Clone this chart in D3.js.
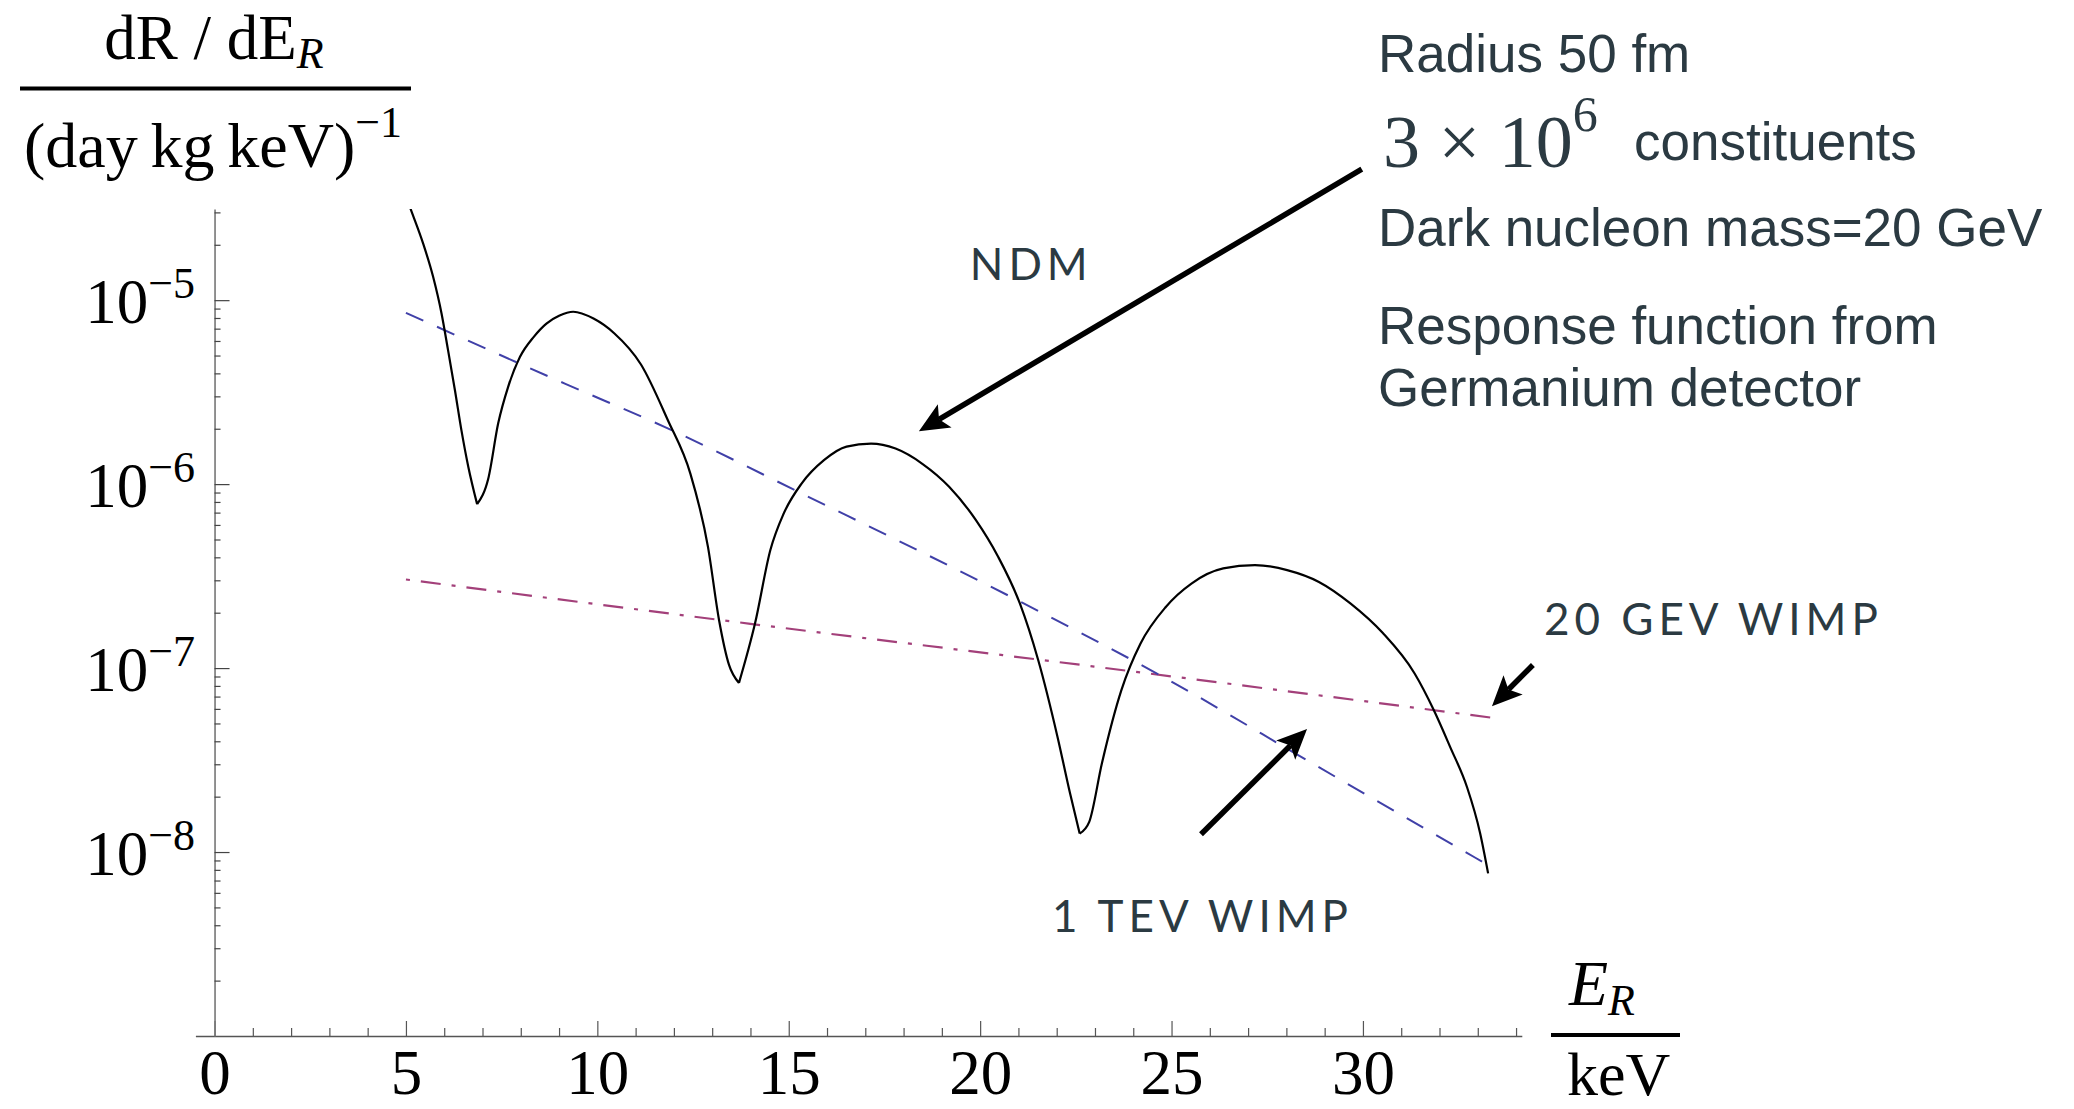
<!DOCTYPE html>
<html>
<head>
<meta charset="utf-8">
<script src="https://cdn.jsdelivr.net/npm/d3@7"></script>
<style>
  html, body { margin: 0; padding: 0; background: #fff; }
  svg { display: block; }
</style>
</head>
<body>
<svg id="chart" width="2074" height="1109"></svg>
<script>
// NDM recoil spectrum (black)
var ndmEnergy = [5.00, 5.15, 5.45, 5.71, 5.93, 6.10, 6.28, 6.45, 6.63, 6.86,
    7.15, 7.41, 7.67, 7.98, 8.34, 8.67, 9.00, 9.37, 9.90, 10.44,
    11.14, 11.84, 12.43, 12.89, 13.18, 13.44, 13.70, 14.12, 14.52, 14.87,
    15.34, 15.92, 16.51, 17.15, 17.79, 18.49, 19.19, 19.89, 20.47, 21.04,
    21.52, 22.02, 22.35, 22.60, 22.85, 23.18, 23.69, 24.19, 24.85, 25.52,
    26.35, 27.18, 28.02, 28.85, 29.68, 30.52, 31.35, 31.85, 32.28, 32.72,
    33.06, 33.27];
var ndmRate = [3.67e-5, 3.02e-5, 2.03e-5, 1.34e-5, 8.47e-6, 5.35e-6, 3.24e-6, 1.96e-6, 1.24e-6, 7.78e-7,
    1.07e-6, 2.14e-6, 3.38e-6, 4.92e-6, 6.32e-6, 7.46e-6, 8.22e-6, 8.65e-6, 7.94e-6, 6.61e-6,
    4.47e-6, 2.23e-6, 1.14e-6, 4.56e-7, 1.82e-7, 1.04e-7, 8.30e-8, 1.75e-7, 4.38e-7, 6.93e-7,
    1.01e-6, 1.35e-6, 1.60e-6, 1.66e-6, 1.56e-6, 1.29e-6, 9.68e-7, 6.37e-7, 4.03e-7, 2.24e-7,
    1.10e-7, 4.24e-8, 2.08e-8, 1.26e-8, 1.46e-8, 3.03e-8, 7.59e-8, 1.36e-7, 2.15e-7, 2.88e-7,
    3.48e-7, 3.63e-7, 3.41e-7, 2.94e-7, 2.24e-7, 1.55e-7, 9.35e-8, 5.92e-8, 3.72e-8, 2.25e-8,
    1.27e-8, 7.66e-9];

// 1 TeV WIMP (blue dashed)
var tevEnergy = [5.00, 9.15, 11.84, 15.34, 21.06, 24.85, 28.68, 33.27];
var tevRate = [8.53e-6, 3.52e-6, 2.01e-6, 8.89e-7, 2.29e-7, 8.79e-8, 3.03e-8, 8.49e-9];

// 20 GeV WIMP (purple dot-dashed)
var gevEnergy = [5.00, 14.00, 23.13, 33.49];
var gevRate = [3.03e-7, 1.74e-7, 1.01e-7, 5.33e-8];

var xMajor = [0, 5, 10, 15, 20, 25, 30];
var xMinor = d3.range(1, 35).filter(function (d) { return d % 5 !== 0; });
var yMajor = [1e-8, 1e-7, 1e-6, 1e-5];
var yExp = ["\u22128", "\u22127", "\u22126", "\u22125"];

// annotations: [label, labelE, labelRate, tailE, tailRate, tipE, tipRate]
var notes = [
    ["NDM", 19.73, 1.29e-5, 29.97, 5.15e-5, 18.40, 1.94e-6],
    ["20 GEV WIMP", 34.73, 1.51e-7, 34.44, 1.04e-7, 33.37, 6.21e-8],
    ["1 TEV WIMP", 21.88, 3.67e-9, 25.77, 1.25e-8, 28.54, 4.66e-8]
];

var svg = d3.select("#chart");
svg.append("rect").attr("width", 2074).attr("height", 1109).attr("fill", "#fff");

var x = d3.scaleLinear().domain([-0.5, 34.15]).range([195.4, 1521.8]);
var y = d3.scaleLog().domain([1e-9, 3.13e-5]).range([1036, 209]);

var serif = "'Liberation Serif', 'Times New Roman', serif";
var sans = "'Liberation Sans', Arial, sans-serif";
var ink = "#2b3a42";

// x axis: major + minor ticks pointing up
svg.append("g")
    .attr("transform", "translate(0," + y(1e-9) + ")")
    .call(d3.axisBottom(x).tickValues(xMinor).tickSizeInner(-8).tickSizeOuter(0).tickFormat(""))
    .call(function (g) {
        g.select(".domain").attr("stroke", "#555").attr("stroke-width", 1.6);
        g.selectAll(".tick line").attr("stroke", "#555").attr("stroke-width", 1.2);
    });
var xg = svg.append("g")
    .attr("transform", "translate(0," + y(1e-9) + ")")
    .call(d3.axisBottom(x).tickValues(xMajor).tickSizeInner(-15).tickSizeOuter(0));
xg.select(".domain").remove();
xg.selectAll(".tick line").attr("stroke", "#555").attr("stroke-width", 1.2);
xg.selectAll(".tick text")
    .attr("y", 58).attr("dy", null)
    .attr("font-family", serif).attr("font-size", 63).attr("fill", "#000");

// y axis
var yMinor = [];
[-9, -8, -7, -6, -5].forEach(function (k) {
    for (var m = 2; m <= 9; m++) {
        var v = m * Math.pow(10, k);
        if (v <= 3.05e-5) yMinor.push(v);
    }
});
var ya = svg.append("g")
    .attr("transform", "translate(" + x(0) + ",0)")
    .call(d3.axisLeft(y).tickValues(yMinor).tickSizeInner(-6).tickSizeOuter(0).tickFormat(""));
ya.select(".domain").attr("stroke", "#777").attr("stroke-width", 1.6);
ya.selectAll(".tick line").attr("stroke", "#444").attr("stroke-width", 1.2);
var yb = svg.append("g")
    .attr("transform", "translate(" + x(0) + ",0)")
    .call(d3.axisLeft(y).tickValues(yMajor).tickSizeInner(-15).tickSizeOuter(0).tickFormat(""));
yb.select(".domain").remove();
yb.selectAll(".tick line").attr("stroke", "#444").attr("stroke-width", 1.2);

var yl = svg.append("g").selectAll("text").data(yMajor).enter().append("text")
    .attr("x", 195).attr("y", function (d) { return y(d) + 23; })
    .attr("text-anchor", "end")
    .attr("font-family", serif).attr("font-size", 63).attr("fill", "#000");
yl.append("tspan").text("10");
yl.append("tspan").attr("font-size", 44).attr("dy", -25)
    .text(function (d, i) { return yExp[i]; });

// curves
svg.append("clipPath").attr("id", "plot")
    .append("rect").attr("x", x(0)).attr("y", 209).attr("width", 1320).attr("height", 830);

var line = d3.line()
    .x(function (d) { return x(d[0]); })
    .y(function (d) { return y(d[1]); })
    .curve(d3.curveMonotoneX);

var plot = svg.append("g").attr("clip-path", "url(#plot)");
plot.append("path")
    .datum(d3.zip(gevEnergy, gevRate))
    .attr("d", line).attr("fill", "none")
    .attr("stroke", "#a3407a").attr("stroke-width", 2.2)
    .attr("stroke-dasharray", "4,11,20,11");
plot.append("path")
    .datum(d3.zip(tevEnergy, tevRate))
    .attr("d", line).attr("fill", "none")
    .attr("stroke", "#4040a8").attr("stroke-width", 2)
    .attr("stroke-dasharray", "19,15");

// NDM: smooth humps, sharp cusps at the form-factor zeros
var ndm = d3.zip(ndmEnergy, ndmRate);
var cuts = [0];
for (var i = 1; i < ndm.length - 1; i++) {
    if (ndm[i][1] < ndm[i - 1][1] && ndm[i][1] < ndm[i + 1][1]) cuts.push(i);
}
cuts.push(ndm.length - 1);
var ndmD = "";
for (var j = 0; j < cuts.length - 1; j++) {
    ndmD += line(ndm.slice(cuts[j], cuts[j + 1] + 1));
}
plot.append("path")
    .attr("d", ndmD).attr("fill", "none")
    .attr("stroke", "#000").attr("stroke-width", 2.2)
    .attr("stroke-linejoin", "miter");

// annotations
function arrow(x1, y1, x2, y2, len, wid) {
    var dx = x2 - x1, dy = y2 - y1, L = Math.hypot(dx, dy);
    var ux = dx / L, uy = dy / L, px = -uy, py = ux;
    var bx = x2 - ux * len, by = y2 - uy * len;
    var nx = x2 - ux * len * 0.78, ny = y2 - uy * len * 0.78;
    svg.append("line")
        .attr("x1", x1).attr("y1", y1).attr("x2", nx).attr("y2", ny)
        .attr("stroke", "#000").attr("stroke-width", 5.5);
    svg.append("path")
        .attr("d", "M" + x2 + "," + y2 +
            "L" + (bx + px * wid / 2) + "," + (by + py * wid / 2) +
            "L" + nx + "," + ny +
            "L" + (bx - px * wid / 2) + "," + (by - py * wid / 2) + "Z")
        .attr("fill", "#000");
}
notes.forEach(function (n) {
    svg.append("text")
        .attr("x", x(n[1])).attr("y", y(n[2]))
        .attr("font-family", "Lato, 'Noto Sans', sans-serif")
        .attr("font-size", 44).attr("letter-spacing", 5).attr("fill", ink)
        .text(n[0]);
    arrow(x(n[3]), y(n[4]), x(n[5]), y(n[6]), 30, 27);
});

// y axis label
svg.append("line").attr("x1", 20).attr("x2", 411).attr("y1", 88.5).attr("y2", 88.5)
    .attr("stroke", "#000").attr("stroke-width", 4);
var num = svg.append("text").attr("x", 214).attr("y", 59).attr("text-anchor", "middle")
    .attr("font-family", serif).attr("font-size", 63).attr("fill", "#000");
num.append("tspan").text("dR / dE");
num.append("tspan").attr("font-style", "italic").attr("font-size", 44).attr("dy", 9).text("R");
var den = svg.append("text").attr("x", 213).attr("y", 167).attr("text-anchor", "middle")
    .attr("font-family", serif).attr("font-size", 64).attr("fill", "#000");
den.append("tspan").text("(day\u2009kg\u2009keV)");
den.append("tspan").attr("font-size", 44).attr("dy", -30).text("\u22121");

// x axis label
svg.append("line").attr("x1", 1551).attr("x2", 1680).attr("y1", 1035).attr("y2", 1035)
    .attr("stroke", "#000").attr("stroke-width", 4);
var er = svg.append("text").attr("x", 1569).attr("y", 1005)
    .attr("font-family", serif).attr("font-size", 64).attr("font-style", "italic").attr("fill", "#000");
er.append("tspan").text("E");
er.append("tspan").attr("font-size", 44).attr("dy", 10).text("R");
svg.append("text").attr("x", 1567).attr("y", 1095)
    .attr("font-family", serif).attr("font-size", 62).attr("fill", "#000").text("keV");

// parameter block
var info = [["Radius 50 fm", 72], ["Dark nucleon mass=20 GeV", 246],
    ["Response function from", 344], ["Germanium detector", 406]];
info.forEach(function (t) {
    svg.append("text").attr("x", 1378).attr("y", t[1])
        .attr("font-family", sans).attr("font-size", 53).attr("fill", ink).text(t[0]);
});
var cst = svg.append("text").attr("x", 1383).attr("y", 167)
    .attr("font-family", serif).attr("font-size", 74).attr("fill", ink);
cst.append("tspan").text("3 \u00d7 10");
cst.append("tspan").attr("font-size", 50).attr("dy", -36).text("6");
svg.append("text").attr("x", 1634).attr("y", 160)
    .attr("font-family", sans).attr("font-size", 53).attr("fill", ink).text("constituents");
</script>
</body>
</html>
